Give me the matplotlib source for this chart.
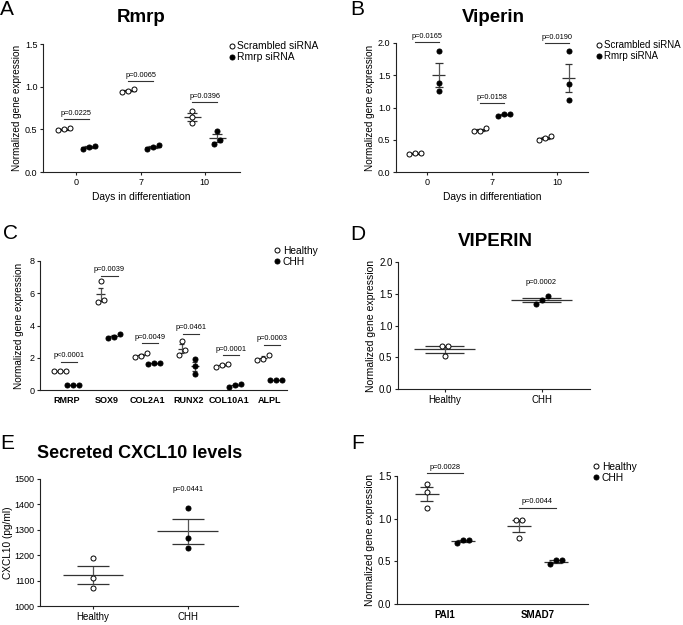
import matplotlib
matplotlib.use('Agg')
import matplotlib.pyplot as plt
from matplotlib.lines import Line2D
import numpy as np

plt.rcParams['font.family'] = ['Liberation Sans', 'DejaVu Sans']

W, H = 683, 625

# panel A: Rmrp
days = ['0', '7', '10']
rmrp_scr = [[0.51, 0.49, 0.50], [0.97, 0.94, 0.95], [0.72, 0.57, 0.65]]
rmrp_si = [[0.31, 0.27, 0.29], [0.32, 0.27, 0.29], [0.48, 0.33, 0.38]]
rmrp_p = ['p=0.0225', 'p=0.0065', 'p=0.0396']
rmrp_pbar = [0.625, 1.07, 0.82]

# panel B: Viperin
vip_scr = [[0.30, 0.28, 0.29], [0.68, 0.63, 0.64], [0.56, 0.50, 0.52]]
vip_si = [[1.88, 1.38, 1.25], [0.90, 0.87, 0.90], [1.87, 1.37, 1.12]]
vip_p = ['p=0.0165', 'p=0.0158', 'p=0.0190']
vip_pbar = [2.01, 1.075, 2.0]

# panel C: patient genes
genes_c = ['RMRP', 'SOX9', 'COL2A1', 'RUNX2', 'COL10A1', 'ALPL']
healthy_c = [[1.2, 1.17, 1.19], [6.75, 5.45, 5.6], [2.27, 2.06, 2.1],
             [3.05, 2.2, 2.47], [1.6, 1.44, 1.58], [2.2, 1.9, 1.86]]
chh_c = [[0.31, 0.29, 0.31], [3.5, 3.25, 3.3], [1.66, 1.62, 1.66],
         [1.92, 1.5, 0.97], [0.38, 0.2, 0.34], [0.63, 0.6, 0.64]]
p_c = ['p<0.0001', 'p=0.0039', 'p=0.0049', 'p=0.0461', 'p=0.0001', 'p=0.0003']
pbar_c = [1.75, 7.1, 2.9, 3.5, 2.15, 2.8]

# panel D: VIPERIN
groups = ['Healthy', 'CHH']
viperin_d = [[0.68, 0.67, 0.52], [1.46, 1.40, 1.34]]
p_d = 'p=0.0002'

# panel E: secreted CXCL10
cxcl10_e = [[1188, 1110, 1070], [1387, 1267, 1227]]
p_e = 'p=0.0441'

# panel F
genes_f = ['PAI1', 'SMAD7']
healthy_f = [[1.41, 1.31, 1.13], [0.98, 0.98, 0.77]]
chh_f = [[0.75, 0.72, 0.75], [0.51, 0.47, 0.51]]
p_f = ['p=0.0028', 'p=0.0044']
pbar_f = [1.53, 1.13]

LC = '#333333'
fig = plt.figure(figsize=(W / 100, H / 100), dpi=100)


def px_axes(l, t, r, b):
    return fig.add_axes([l / W, 1 - b / H, (r - l) / W, (b - t) / H])


def style(ax, fs=6.5):
    for s in ['top', 'right']:
        ax.spines[s].set_visible(False)
    for s in ['left', 'bottom']:
        ax.spines[s].set_linewidth(0.8)
        ax.spines[s].set_color('#222222')
    ax.tick_params(labelsize=fs, width=0.8, length=2.5, pad=1.5, color='#222222')


def swarm(ax, x, vals, filled, hw_mean, hw_cap):
    vals = np.asarray(vals, float)
    m = vals.mean()
    se = vals.std(ddof=1) / np.sqrt(len(vals))
    ax.hlines(m, x - hw_mean, x + hw_mean, color=LC, lw=0.9, zorder=2, clip_on=False)
    ax.vlines(x, m - se, m + se, color='#555555', lw=0.9, zorder=2)
    ax.hlines([m - se, m + se], x - hw_cap, x + hw_cap, color=LC, lw=0.9, zorder=2)
    # spread overlapping points sideways
    tr = ax.transData.transform
    py = tr(np.column_stack([np.full(len(vals), x), vals]))[:, 1]
    pxu = tr((1, 0))[0] - tr((0, 0))[0]
    order = np.argsort(py)
    clusters = [[order[0]]]
    for i in order[1:]:
        if py[i] - py[clusters[-1][-1]] < 5:
            clusters[-1].append(i)
        else:
            clusters.append([i])
    xs = np.full(len(vals), float(x))
    for c in clusters:
        n = len(c)
        for k, i in enumerate(c):
            xs[i] = x + (k - (n - 1) / 2) * 6 / pxu
    ax.scatter(xs, vals, s=13, facecolor='black' if filled else 'white',
               edgecolor='black', linewidth=0.7, zorder=3, clip_on=False)


def pbar(ax, x0, x1, y, txt, dy):
    ax.plot([x0, x1], [y, y], color=LC, lw=0.8, clip_on=False)
    ax.text((x0 + x1) / 2, y + dy, txt, ha='center', va='bottom', fontsize=5.3)


def legend(ax, labels, bx, by, fs=7.4):
    h = [Line2D([], [], ls='none', marker='o', ms=3.6, mfc='white', mec='black', mew=0.7),
         Line2D([], [], ls='none', marker='o', ms=3.6, mfc='black', mec='black', mew=0.7)]
    ax.legend(h, labels, loc='upper left', bbox_to_anchor=(bx, by), frameon=False,
              fontsize=fs, handlelength=0.5, handletextpad=0.3, borderpad=0,
              borderaxespad=0, labelspacing=0.1)


def letter(x, y, s):
    fig.text(x / W, 1 - y / H, s, fontsize=15, va='top', ha='left')


def title(x, y, s, fs=13.5):
    fig.text(x / W, 1 - y / H, s, fontsize=fs, fontweight='bold', ha='center', va='center')


# ---- A ----
ax = px_axes(43, 44, 240, 172)
style(ax)
ax.set_xlim(-0.52, 2.55)
ax.set_ylim(0, 1.5)
ax.set_yticks([0, 0.5, 1.0, 1.5])
ax.set_yticklabels(['0.0', '0.5', '1.0', '1.5'])
ax.set_xticks(range(3))
ax.set_xticklabels(days)
off = 0.195
for i in range(3):
    swarm(ax, i - off, rmrp_scr[i], False, 0.13, 0.08)
    swarm(ax, i + off, rmrp_si[i], True, 0.13, 0.08)
    pbar(ax, i - off, i + off, rmrp_pbar[i], rmrp_p[i], 0.02)
ax.set_ylabel('Normalized gene expression', fontsize=7.2, labelpad=2)
ax.set_xlabel('Days in differentiation', fontsize=7.4, labelpad=4)
legend(ax, ['Scrambled siRNA', 'Rmrp siRNA'], 0.945, 1.02)
letter(0, 0, 'A')
title(141, 17, 'Rmrp')

# ---- B ----
ax = px_axes(396, 43, 588, 172)
style(ax)
ax.set_xlim(-0.48, 2.48)
ax.set_ylim(0, 2.0)
ax.set_yticks([0, 0.5, 1.0, 1.5, 2.0])
ax.set_yticklabels(['0.0', '0.5', '1.0', '1.5', '2.0'])
ax.set_xticks(range(3))
ax.set_xticklabels(days)
off = 0.18
for i in range(3):
    swarm(ax, i - off, vip_scr[i], False, 0.12, 0.07)
    swarm(ax, i + off, vip_si[i], True, 0.1, 0.06)
    pbar(ax, i - off, i + off, vip_pbar[i], vip_p[i], 0.03)
ax.set_ylabel('Normalized gene expression', fontsize=7.2, labelpad=2)
ax.set_xlabel('Days in differentiation', fontsize=7.4, labelpad=4)
legend(ax, ['Scrambled siRNA', 'Rmrp siRNA'], 1.045, 1.02, 7)
letter(350, 0, 'B')
title(493, 17, 'Viperin')

# ---- C ----
ax = px_axes(40, 261, 287, 390)
style(ax)
ax.set_xlim(-0.65, 5.43)
ax.set_ylim(0, 8)
ax.set_yticks([0, 2, 4, 6, 8])
ax.set_xticks(range(len(genes_c)))
ax.set_xticklabels(genes_c, fontweight='bold')
ax.tick_params(axis='x', length=0, pad=4)
off = 0.16
for i in range(len(genes_c)):
    swarm(ax, i - off, healthy_c[i], False, 0.1, 0.06)
    swarm(ax, i + off, chh_c[i], True, 0.1, 0.06)
    pbar(ax, i - off + 0.02, i + off + 0.1, pbar_c[i], p_c[i], 0.15)
ax.set_ylabel('Normalized gene expression', fontsize=7.2, labelpad=4)
legend(ax, ['Healthy', 'CHH'], 0.95, 1.12)
letter(3, 224, 'C')

# ---- D ----
ax = px_axes(398, 262, 590, 389)
style(ax, 7)
ax.set_xlim(-0.48, 1.5)
ax.set_ylim(0, 2.0)
ax.set_yticks([0, 0.5, 1.0, 1.5, 2.0])
ax.set_yticklabels(['0.0', '0.5', '1.0', '1.5', '2.0'])
ax.set_xticks(range(2))
ax.set_xticklabels(groups)
swarm(ax, 0, viperin_d[0], False, 0.31, 0.2)
swarm(ax, 1, viperin_d[1], True, 0.31, 0.2)
ax.text(1, 1.62, p_d, ha='center', va='bottom', fontsize=5.3)
ax.set_ylabel('Normalized gene expression', fontsize=7.5, labelpad=2)
letter(350, 225, 'D')
title(495, 242, 'VIPERIN')

# ---- E ----
ax = px_axes(40, 479, 238, 606)
style(ax, 6.5)
ax.tick_params(axis='x', labelsize=7)
ax.set_xlim(-0.56, 1.53)
ax.set_ylim(1000, 1500)
ax.set_yticks(range(1000, 1501, 100))
ax.set_xticks(range(2))
ax.set_xticklabels(groups)
swarm(ax, 0, cxcl10_e[0], False, 0.32, 0.17)
swarm(ax, 1, cxcl10_e[1], True, 0.32, 0.17)
ax.text(1, 1445, p_e, ha='center', va='bottom', fontsize=5.3)
ax.set_ylabel('CXCL10 (pg/ml)', fontsize=7.3, labelpad=1)
letter(0, 434, 'E')
title(140, 453, 'Secreted CXCL10 levels', 13)

# ---- F ----
ax = px_axes(397, 476, 588, 604)
style(ax, 7)
ax.set_xlim(-0.52, 1.55)
ax.set_ylim(0, 1.5)
ax.set_yticks([0, 0.5, 1.0, 1.5])
ax.set_yticklabels(['0.0', '0.5', '1.0', '1.5'])
ax.set_xticks(range(2))
ax.set_xticklabels(genes_f, fontweight='bold')
ax.tick_params(axis='x', length=0, pad=4)
off = 0.2
for i in range(2):
    swarm(ax, i - off, healthy_f[i], False, 0.13, 0.07)
    swarm(ax, i + off, chh_f[i], True, 0.13, 0.07)
    pbar(ax, i - off, i + off, pbar_f[i], p_f[i], 0.03)
ax.set_ylabel('Normalized gene expression', fontsize=7.5, labelpad=2)
legend(ax, ['Healthy', 'CHH'], 1.03, 1.11)
letter(351, 434, 'F')

fig.savefig('out.png', dpi=100)
